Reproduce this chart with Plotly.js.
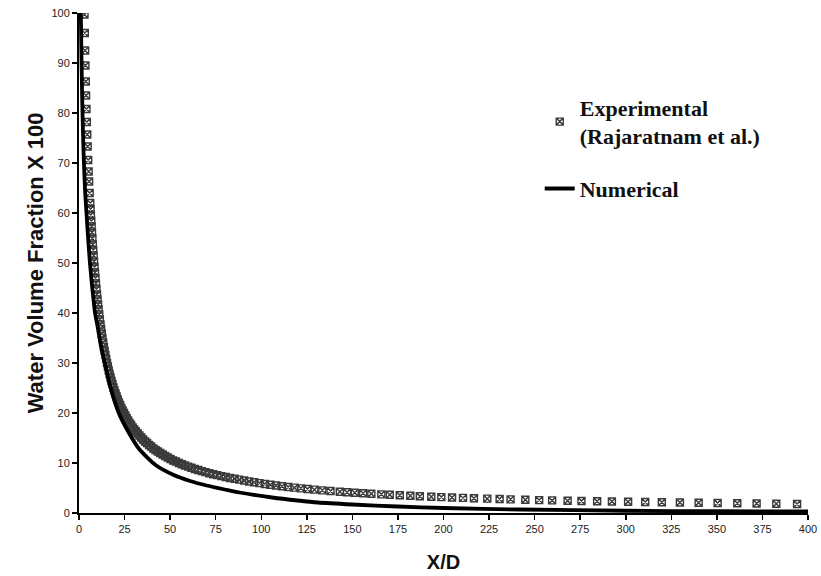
<!DOCTYPE html>
<html>
<head>
<meta charset="utf-8">
<script src="https://cdn.plot.ly/plotly-3.0.1.min.js"></script>
<style>
  html, body { margin: 0; padding: 0; background: #ffffff; }
  #chart { width: 821px; height: 576px; }
</style>
</head>
<body>
<div id="chart"></div>
<script>
// Experimental data (Rajaratnam et al.): centreline water volume fraction x 100 against X/D
const expX = [
  3.0, 3.18, 3.36, 3.52, 3.71, 3.89, 4.09, 4.31, 4.53, 4.76, 5.04, 5.30, 5.55, 5.86, 6.15,
  6.33, 6.52, 6.72, 6.92, 7.13, 7.34, 7.56, 7.79, 8.02, 8.26, 8.51, 8.77, 9.03, 9.30, 9.58,
  9.87, 10.17, 10.47, 10.79, 11.11, 11.44, 11.79, 12.14, 12.50, 12.88, 13.26, 13.66, 14.07,
  14.49, 14.93, 15.38, 15.84, 16.31, 16.80, 17.31, 17.83, 18.36, 18.91, 19.48, 20.06, 20.67,
  21.29, 21.92, 22.58, 23.26, 23.96, 24.68, 25.42, 26.18, 26.96, 27.77, 28.61, 29.46, 30.35,
  31.26, 32.20, 33.16, 34.16, 35.18, 36.24, 37.32, 38.44, 39.60, 40.78, 42.01, 43.27, 44.57,
  45.90, 47.28, 48.70, 50.16, 51.66, 53.21, 54.81, 56.45, 58.15, 59.89, 61.69, 63.54, 65.44,
  67.41, 69.43, 71.51, 73.66, 75.87, 78.14, 80.49, 82.90, 85.39, 87.95, 90.59, 93.31, 96.11,
  98.99, 101.96, 105.02, 108.17, 111.41, 114.76, 118.20, 121.75, 125.40, 129.16, 133.5,
  138.0, 143.1, 147.1, 151.3, 155.9, 160.4, 165.9, 170.5, 176.0, 181.8, 187.0, 193.3, 198.8,
  204.7, 210.7, 216.7, 224.0, 230.8, 236.8, 244.9, 252.5, 259.6, 268.1, 275.7, 284.3, 292.4,
  301.3, 310.7, 319.8, 329.7, 340.0, 350.4, 361.2, 371.8, 382.6, 394.0
];
const expY = [
  99.7, 96.0, 92.5, 89.5, 86.3, 83.5, 80.8, 78.2, 75.7, 73.3, 70.6, 68.3, 66.3, 64.0, 62.0,
  60.8, 59.6, 58.4, 57.3, 56.1, 54.9, 53.7, 52.6, 51.5, 50.3, 49.2, 48.1, 47.0, 45.9, 44.8,
  43.7, 42.7, 41.7, 40.7, 39.7, 38.7, 37.7, 36.8, 35.9, 35.0, 34.1, 33.2, 32.4,
  31.6, 30.8, 30.0, 29.3, 28.5, 27.8, 27.1, 26.4, 25.8, 25.1, 24.5, 23.9, 23.3,
  22.7, 22.1, 21.6, 21.0, 20.5, 20.0, 19.5, 19.0, 18.5, 18.0, 17.6, 17.1, 16.7,
  16.3, 15.9, 15.5, 15.1, 14.7, 14.3, 14.0, 13.6, 13.3, 12.9, 12.6, 12.3, 12.0,
  11.7, 11.4, 11.1, 10.8, 10.5, 10.3, 10.0, 9.76, 9.51, 9.27, 9.04, 8.81, 8.59,
  8.38, 8.17, 7.96, 7.76, 7.57, 7.38, 7.19, 7.01, 6.84, 6.67, 6.49, 6.31, 6.14,
  5.98, 5.81, 5.66, 5.50, 5.35, 5.21, 5.07, 4.93, 4.80, 4.67, 4.53,
  4.40, 4.26, 4.15, 4.05, 3.94, 3.84, 3.73, 3.64, 3.54, 3.44, 3.36, 3.26, 3.18,
  3.10, 3.02, 2.95, 2.87, 2.79, 2.73, 2.65, 2.58, 2.52, 2.45, 2.40, 2.34, 2.29,
  2.24, 2.19, 2.14, 2.09, 2.04, 1.99, 1.94, 1.90, 1.86, 1.81
];

// Numerical prediction
const numX = [
  1.0, 1.4, 1.8, 2.2, 2.7, 3.4, 4.1, 5.0, 6.0, 7.3, 8.8, 10.2, 12.0, 14.2, 17.0, 21.6,
  26.5, 33.0, 42.0, 52.0, 61.0, 70.0, 80.0, 88.0, 106.0, 120.0, 131.0, 150.0, 175.0,
  200.0, 242.0, 300.0, 350.0, 400.0
];
const numY = [
  100, 90, 82, 76, 70, 64, 60, 55, 50, 45, 40, 37.3, 33.5, 30, 25.5, 20.2,
  16.6, 12.8, 9.6, 7.6, 6.4, 5.5, 4.7, 4.1, 3.1, 2.5, 2.1, 1.7, 1.3,
  1.0, 0.7, 0.45, 0.35, 0.3
];

const xTicks = [0, 25, 50, 75, 100, 125, 150, 175, 200, 225, 250, 275, 300, 325, 350, 375, 400];
const yTicks = [0, 10, 20, 30, 40, 50, 60, 70, 80, 90, 100];

const tickFont = { family: '"Liberation Sans Narrow", "Arial Narrow", "Liberation Sans", Arial, sans-serif', size: 11, color: '#222' };
const xTitleFont = { family: '"Liberation Sans", Arial, sans-serif', size: 20, color: '#111' };
const yTitleFont = { family: '"Liberation Sans", Arial, sans-serif', size: 22, color: '#111' };

const traces = [
  {
    x: expX, y: expY,
    type: 'scatter', mode: 'markers',
    name: 'Experimental<br>(Rajaratnam et al.)',
    legendgroup: 'a',
    marker: { symbol: 'square-x-open', size: 7, color: '#3a3a3a', line: { width: 1.4, color: '#3a3a3a' } },
    hoverinfo: 'x+y'
  },
  {
    x: numX, y: numY,
    type: 'scatter', mode: 'lines',
    name: 'Numerical',
    legendgroup: 'b',
    line: { color: '#000', width: 3.8, shape: 'spline', smoothing: 0.6 },
    hoverinfo: 'x+y'
  }
];

const layout = {
  width: 821, height: 576,
  margin: { l: 79, r: 13, t: 13, b: 63 },
  paper_bgcolor: '#ffffff',
  plot_bgcolor: '#ffffff',
  showlegend: true,
  legend: {
    x: 0.632, y: 0.853, xanchor: 'left', yanchor: 'top',
    bgcolor: 'rgba(0,0,0,0)',
    traceorder: 'grouped', tracegroupgap: 21, valign: 'middle',
    font: { family: '"Liberation Serif", "Times New Roman", serif', size: 22, color: '#111', weight: 'bold' }
  },
  xaxis: {
    range: [0, 400], tickvals: xTicks, ticktext: xTicks.map(String),
    showgrid: false, zeroline: false,
    showline: true, linecolor: '#000', linewidth: 2,
    ticks: 'outside', ticklen: 5, tickwidth: 1.5, tickcolor: '#000',
    tickfont: tickFont,
    title: { text: '<b>X/D</b>', font: xTitleFont, standoff: 21 }
  },
  yaxis: {
    range: [0, 100], tickvals: yTicks, ticktext: yTicks.map(String),
    showgrid: false, zeroline: false,
    showline: true, linecolor: '#000', linewidth: 2,
    ticks: 'outside', ticklen: 5, tickwidth: 1.5, tickcolor: '#000',
    tickfont: tickFont,
    title: { text: '<b>Water Volume Fraction X 100</b>', font: yTitleFont, standoff: 2 }
  }
};

Plotly.newPlot('chart', traces, layout, { displayModeBar: false, staticPlot: true });
</script>
</body>
</html>
